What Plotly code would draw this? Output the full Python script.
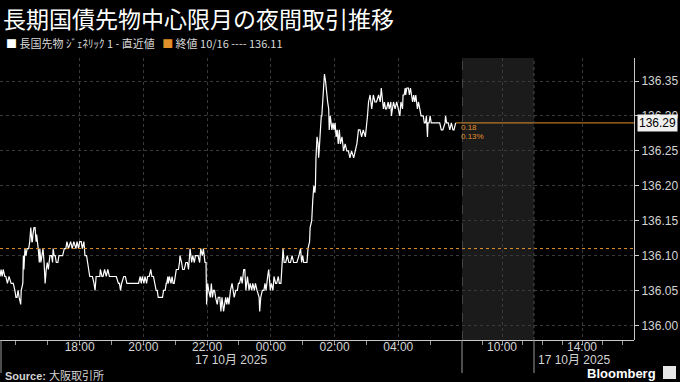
import pandas as pd
import plotly.graph_objects as go

TITLE = "長期国債先物中心限月の夜間取引推移"
SERIES_NAME = "長国先物 ｼﾞｪﾈﾘｯｸ 1 - 直近値"
CLOSE_NAME = "終値 10/16 ---- 136.11"
SOURCE = "大阪取引所"
session_open = "2025-10-16 15:30"
prev_close = 136.11

minutes_after_open = [
    0, 2, 4, 6, 9, 11, 14, 17, 21, 25,
    28, 30, 32, 34, 36, 39, 40, 43, 44, 45,
    47, 49, 51, 54, 56, 58, 60, 61, 62, 64,
    66, 68, 69, 71, 72, 74, 75, 77, 79, 81,
    83, 85, 87, 89, 91, 94, 97, 99, 100, 102,
    104, 106, 109, 111, 114, 116, 118, 121, 124, 126,
    129, 133, 136, 139, 143, 145, 148, 150, 153, 155,
    158, 160, 163, 165, 167, 169, 172, 174, 177, 179,
    181, 184, 188, 189, 192, 194, 197, 200, 203, 206,
    212, 219, 223, 225,
    227, 229, 233, 236, 239, 244, 250, 256, 259, 261,
    264, 266, 268, 271, 273, 276, 278, 281, 284, 286,
    289, 292, 294, 296, 298, 301, 303, 306, 308, 311,
    313, 314, 316, 317, 319, 322, 324, 326, 328, 330,
    332, 334, 336, 338, 339, 342, 344, 347, 350, 353,
    355, 358, 359, 361, 363, 366, 368, 371, 373, 376,
    378, 381, 383, 386, 388, 389, 391, 393, 396, 398,
    400, 402, 404, 406, 409, 411, 414, 416, 418, 421,
    423, 425, 427, 429, 431,
    434, 437, 441, 444, 447, 449, 451, 454, 456, 459,
    461, 463, 466, 469, 471, 474, 476, 479, 481, 484,
    488, 489, 491, 494, 497, 499, 501, 504, 506, 509,
    511, 514, 516, 519, 521, 524, 526, 529, 531, 533,
    535, 538, 541, 544, 547, 550, 553, 556, 559, 563,
    566, 568, 570, 572, 575, 578, 580, 583, 584, 586,
    587, 589, 591, 593, 594, 595, 597, 599, 600, 601,
    603, 605, 606, 608, 609, 611, 613, 614, 616, 617,
    619, 620, 622, 624, 625, 627, 629, 631, 633, 635,
    637, 639, 641, 644, 646, 647, 650, 653, 656, 659,
    662, 666, 669, 672, 675, 678, 681, 684, 688, 691,
    692, 694, 697, 700, 703, 706, 709, 713, 716, 718,
    720, 722, 724, 726, 728, 731, 733, 736, 737, 741,
    744, 747, 750, 753, 755, 758, 759, 761, 763, 764,
    766, 769, 771, 773, 775, 777, 779, 781, 783, 786,
    788, 791, 793, 795, 797, 799, 801, 803, 805, 806,
    808, 810, 812, 816, 819, 822, 825, 828, 831, 834,
    838, 839, 841, 844, 847, 850, 853, 855, 858,
]

price = [
    136.07, 136.08, 136.07, 136.08, 136.07, 136.07, 136.06, 136.07, 136.06, 136.06,
    136.05, 136.04, 136.04, 136.05, 136.04, 136.03, 136.05, 136.06, 136.10, 136.08,
    136.11, 136.10, 136.11, 136.11, 136.12, 136.14, 136.12, 136.12, 136.13, 136.14,
    136.14, 136.12, 136.13, 136.12, 136.11, 136.09, 136.11, 136.09, 136.10, 136.11,
    136.09, 136.06, 136.08, 136.09, 136.08, 136.10, 136.10, 136.09, 136.11, 136.10,
    136.10, 136.09, 136.09, 136.10, 136.10, 136.10, 136.10, 136.11, 136.11, 136.12,
    136.11, 136.12, 136.11, 136.12, 136.11, 136.12, 136.11, 136.12, 136.12, 136.11,
    136.12, 136.10, 136.10, 136.09, 136.08, 136.07, 136.07, 136.07, 136.06, 136.05,
    136.07, 136.07, 136.07, 136.08, 136.07, 136.07, 136.08, 136.07, 136.08, 136.07,
    136.07, 136.07, 136.06, 136.06,
    136.05, 136.06, 136.07, 136.07, 136.06, 136.06, 136.06, 136.06, 136.06, 136.06,
    136.07, 136.06, 136.07, 136.06, 136.07, 136.06, 136.07, 136.07, 136.08, 136.07,
    136.07, 136.06, 136.05, 136.05, 136.04, 136.04, 136.04, 136.04, 136.05, 136.05,
    136.06, 136.06, 136.07, 136.06, 136.07, 136.06, 136.07, 136.06, 136.06, 136.07,
    136.08, 136.08, 136.08, 136.09, 136.10, 136.09, 136.08, 136.08, 136.09, 136.09,
    136.08, 136.11, 136.10, 136.09, 136.10, 136.09, 136.10, 136.10, 136.10, 136.09,
    136.11, 136.10, 136.11, 136.09, 136.09, 136.03, 136.06, 136.05, 136.04, 136.06,
    136.04, 136.05, 136.05, 136.04, 136.03, 136.04, 136.04, 136.02, 136.04, 136.02,
    136.03, 136.04, 136.03, 136.04, 136.03,
    136.05, 136.06, 136.04, 136.05, 136.05, 136.06, 136.06, 136.07, 136.06, 136.08,
    136.08, 136.05, 136.07, 136.05, 136.06, 136.05, 136.06, 136.05, 136.06, 136.05,
    136.04, 136.02, 136.04, 136.05, 136.05, 136.06, 136.05, 136.07, 136.08, 136.05,
    136.06, 136.05, 136.07, 136.06, 136.06, 136.07, 136.06, 136.06, 136.08, 136.11,
    136.09, 136.09, 136.10, 136.09, 136.09, 136.10, 136.09, 136.09, 136.09, 136.10,
    136.11, 136.09, 136.10, 136.09, 136.09, 136.09, 136.11, 136.12, 136.14, 136.15,
    136.15, 136.18, 136.20, 136.19, 136.20, 136.24, 136.27, 136.26, 136.24, 136.25,
    136.28, 136.30, 136.30, 136.32, 136.33, 136.36, 136.35, 136.34, 136.33, 136.32,
    136.31, 136.28, 136.30, 136.29, 136.28, 136.29, 136.28, 136.29, 136.27, 136.28,
    136.26, 136.28, 136.26, 136.27, 136.25, 136.25, 136.26, 136.25, 136.25, 136.24,
    136.25, 136.24, 136.25, 136.26, 136.28, 136.28, 136.27, 136.28, 136.27, 136.29,
    136.30, 136.32, 136.33, 136.31, 136.33, 136.32, 136.32, 136.33, 136.32, 136.34,
    136.32, 136.31, 136.32, 136.31, 136.31, 136.32, 136.31, 136.32, 136.30, 136.32,
    136.31, 136.32, 136.31, 136.30, 136.32, 136.31, 136.33, 136.33, 136.34, 136.33,
    136.34, 136.34, 136.33, 136.34, 136.33, 136.32, 136.33, 136.32, 136.33, 136.31,
    136.32, 136.31, 136.30, 136.30, 136.30, 136.29, 136.29, 136.30, 136.27, 136.29,
    136.29, 136.30, 136.29, 136.29, 136.29, 136.29, 136.29, 136.29, 136.28, 136.28,
    136.29, 136.30, 136.29, 136.29, 136.28, 136.29, 136.28, 136.28, 136.29,
]

night_tick_labels = ["18:00", "20:00", "22:00", "00:00", "02:00", "04:00"]
day_tick_labels = ["10:00", "14:00"]
date_label = "17 10月 2025"
y_tick_values = [136.00, 136.05, 136.10, 136.15, 136.20, 136.25, 136.30, 136.35]

assert len(minutes_after_open) == len(price)

# ---------------------------------------------------------------- axes setup
night_range = ["2025-10-16 15:30", "2025-10-17 06:00"]
day_range = ["2025-10-17 08:00", "2025-10-17 16:36"]
day_shade = ["2025-10-17 08:00", "2025-10-17 11:36"]
y_range = [135.979, 136.383]

t0 = pd.Timestamp(session_open)
times = [t0 + pd.Timedelta(minutes=m) for m in minutes_after_open]


def night_stamp(label):
    hh = int(label[:2])
    day = "2025-10-16" if hh >= 15 else "2025-10-17"
    return f"{day} {label}"


night_tickvals = [night_stamp(s) for s in night_tick_labels]
day_tickvals = [f"2025-10-17 {s}" for s in day_tick_labels]
night_minor = [str(t) for t in pd.date_range("2025-10-16 16:00", "2025-10-17 05:00", freq="h")]
day_minor = [str(t) for t in pd.date_range("2025-10-17 09:00", "2025-10-17 16:00", freq="h")]

W, H = 680, 382
ML, MR, MT, MB = 0, 46, 58, 42
PW, PH = W - ML - MR, H - MT - MB
split = 462 / PW


def px_x(px):
    return (px - ML) / PW


def px_y(py):
    return (H - MB - py) / PH


ORANGE = "#e0902a"
GRID = "#3a3a3a"
TEXT = "#d4d4d4"
FONT = "Liberation Sans, Noto Sans CJK JP, sans-serif"
CJK = "Noto Sans CJK JP, sans-serif"

fig = go.Figure()

fig.add_trace(go.Scatter(
    x=times, y=price, mode="lines",
    line=dict(color="#ffffff", width=1.2),
    xaxis="x", yaxis="y", hoverinfo="skip",
))

last_t, last_p = times[-1], price[-1]
fig.add_trace(go.Scatter(
    x=[last_t, night_range[1]], y=[last_p, last_p], mode="lines",
    line=dict(color=ORANGE, width=1), xaxis="x", yaxis="y", hoverinfo="skip",
))
fig.add_trace(go.Scatter(
    x=day_range, y=[last_p, last_p], mode="lines",
    line=dict(color=ORANGE, width=1), xaxis="x2", yaxis="y", hoverinfo="skip",
))

axis_common = dict(
    type="date", showgrid=True, gridcolor=GRID, griddash="dot", gridwidth=1,
    showline=True, linecolor="#c8c8c8", linewidth=1, zeroline=False,
    ticks="outside", ticklen=4, tickcolor="#999999",
    tickfont=dict(family=FONT, size=12, color=TEXT), tickmode="array",
    ticklabelstandoff=-8,
    fixedrange=True,
)

fig.update_layout(
    width=W, height=H, autosize=False,
    margin=dict(l=ML, r=MR, t=MT, b=MB),
    paper_bgcolor="#000000", plot_bgcolor="#000000",
    showlegend=False,
    font=dict(family=FONT, color=TEXT, size=12),
    xaxis=dict(
        domain=[0, split], range=night_range, anchor="y",
        tickvals=night_tickvals, ticktext=night_tick_labels,
        minor=dict(tickvals=night_minor, ticks="outside", ticklen=4,
                   tickcolor="#999999", showgrid=False),
        **axis_common,
    ),
    xaxis2=dict(
        domain=[split, 1], range=day_range, anchor="y",
        tickvals=day_tickvals, ticktext=day_tick_labels,
        minor=dict(tickvals=day_minor, ticks="outside", ticklen=4,
                   tickcolor="#999999", showgrid=False),
        **axis_common,
    ),
    yaxis=dict(
        range=y_range, side="right", anchor="free", position=1,
        tickmode="array", tickvals=y_tick_values,
        ticktext=[f"{v:.2f}" for v in y_tick_values],
        ticks="outside", ticklen=4, tickcolor="#cccccc",
        showline=True, linecolor="#c8c8c8", linewidth=1,
        showgrid=True, gridcolor=GRID, griddash="dot", zeroline=False,
        tickfont=dict(family=FONT, size=12, color=TEXT), fixedrange=True,
    ),
)

shapes = [
    # shaded day-session block
    dict(type="rect", xref="x2", yref="paper", x0=day_shade[0], x1=day_shade[1],
         y0=0, y1=1, fillcolor="#1b1b1b", line=dict(width=0), layer="below"),
    # previous close
    dict(type="line", xref="paper", yref="y", x0=0, x1=1, y0=prev_close, y1=prev_close,
         line=dict(color=ORANGE, width=1, dash="dot")),
    # session boundaries inside plot
    dict(type="line", xref="x2", yref="paper", x0=day_shade[0], x1=day_shade[0], y0=0, y1=1,
         line=dict(color="#6a6a6a", width=1, dash="dash")),
    dict(type="line", xref="x2", yref="paper", x0=day_shade[1], x1=day_shade[1], y0=0, y1=1,
         line=dict(color="#4a4a4a", width=1, dash="dot")),
]
# separators below the axis
for px in (1, 462, 534):
    shapes.append(dict(type="line", xref="paper", yref="paper",
                       x0=px_x(px), x1=px_x(px), y0=px_y(373), y1=0,
                       line=dict(color="#9a9a9a", width=1)))
# Bloomberg icon
shapes.append(dict(type="rect", xref="paper", yref="paper",
                   x0=px_x(663), x1=px_x(676), y0=px_y(379), y1=px_y(366),
                   fillcolor="#e6e6e6", line=dict(width=0)))
fig.update_layout(shapes=shapes)

change = last_p - prev_close
pct = change / prev_close * 100

annotations = [
    dict(text=TITLE, xref="paper", yref="paper", x=px_x(1), y=px_y(18),
         xanchor="left", yanchor="middle", showarrow=False,
         font=dict(family=CJK, size=23, color="#ffffff")),
    dict(text=(f"<span style='color:#ffffff'>■</span> {SERIES_NAME}   "
               f"<span style='color:{ORANGE}'>■</span> {CLOSE_NAME}"),
         xref="paper", yref="paper", x=px_x(4), y=px_y(43),
         xanchor="left", yanchor="middle", showarrow=False,
         font=dict(family=CJK, size=11, color="#d8d8d8")),
    dict(text=date_label, xref="paper", yref="paper", x=px_x(193), y=px_y(360),
         xanchor="left", yanchor="middle", showarrow=False,
         font=dict(family=FONT, size=12, color=TEXT)),
    dict(text=date_label, xref="paper", yref="paper", x=px_x(536), y=px_y(360),
         xanchor="left", yanchor="middle", showarrow=False,
         font=dict(family=FONT, size=12, color=TEXT)),
    dict(text=f"<b>Source:</b> {SOURCE}", xref="paper", yref="paper",
         x=px_x(3), y=px_y(375), xanchor="left", yanchor="middle", showarrow=False,
         font=dict(family=FONT, size=11, color=TEXT)),
    dict(text="<b>Bloomberg</b>", xref="paper", yref="paper",
         x=px_x(658), y=px_y(373), xanchor="right", yanchor="middle", showarrow=False,
         font=dict(family=FONT, size=13, color="#ffffff")),
    dict(text=f"{last_p:.2f}", xref="paper", yref="y", x=1, y=last_p,
         xanchor="left", yanchor="middle", xshift=3, showarrow=False,
         bgcolor="#f0f0f0", borderpad=1,
         font=dict(family=FONT, size=12, color="#000000")),
    dict(text=f"{change:.2f}", xref="x", yref="y", x=last_t, y=last_p,
         xanchor="left", yanchor="middle", xshift=3, yshift=-5, showarrow=False,
         font=dict(family=FONT, size=8, color=ORANGE)),
    dict(text=f"{pct:.2f}%", xref="x", yref="y", x=last_t, y=last_p,
         xanchor="left", yanchor="middle", xshift=3, yshift=-14, showarrow=False,
         font=dict(family=FONT, size=8, color=ORANGE)),
]
fig.update_layout(annotations=annotations)

fig.write_html("out.html")
